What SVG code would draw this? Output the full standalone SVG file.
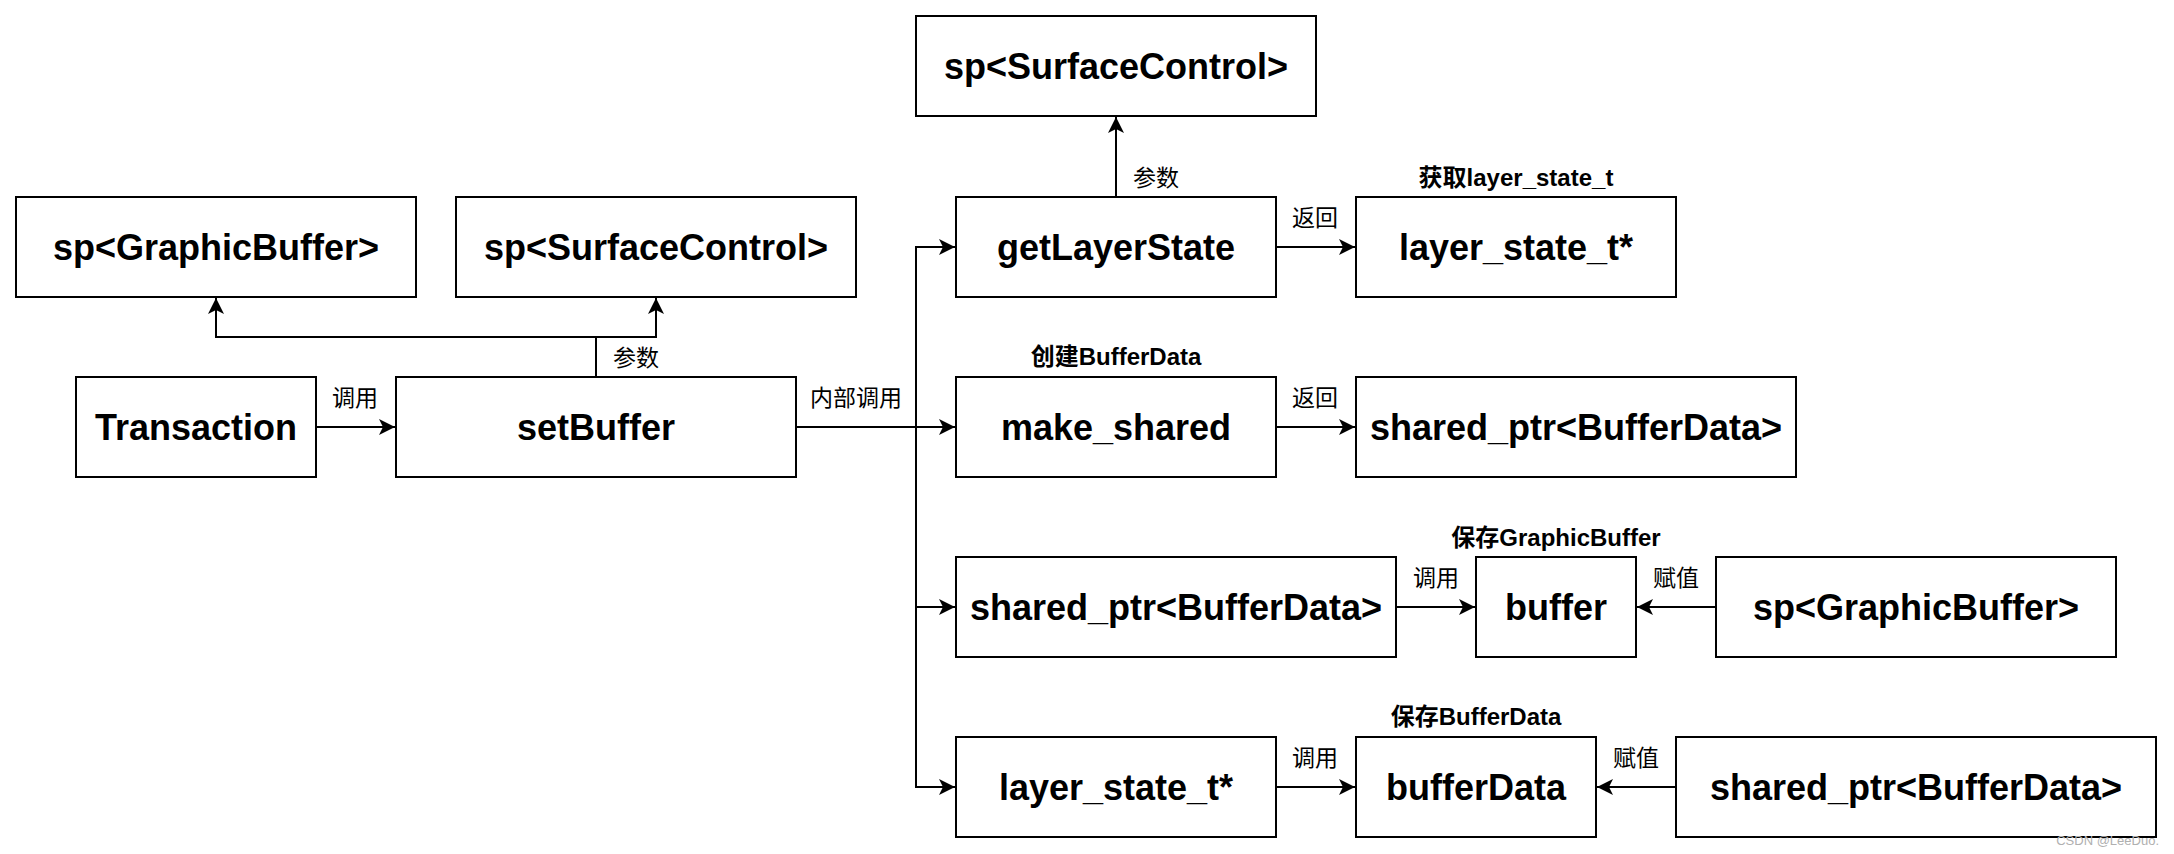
<svg xmlns="http://www.w3.org/2000/svg" width="2174" height="854" viewBox="0 0 2174 854">
<style>
.box{fill:#fff;stroke:#000;stroke-width:2}
.t{font-family:"Liberation Sans","Noto Sans CJK SC",Arial,sans-serif;font-weight:bold;font-size:36px;fill:#000;text-anchor:middle;dominant-baseline:central}
.el{font-family:"Noto Sans CJK SC","Liberation Sans",sans-serif;font-size:23px;fill:#000;text-anchor:middle;dominant-baseline:central}
.bl{font-family:"Liberation Sans","Noto Sans CJK SC",sans-serif;font-weight:bold;font-size:24px;fill:#000;text-anchor:middle;dominant-baseline:central}
.c{fill:none;stroke:#000;stroke-width:2;marker-end:url(#arr)}
.wm{font-family:"Liberation Sans",sans-serif;font-size:13px;fill:#b0b0b0;text-anchor:end}
</style>
<defs>
<marker id="arr" markerUnits="userSpaceOnUse" markerWidth="18" markerHeight="18" refX="16" refY="8" orient="auto" viewBox="0 0 18 16">
<path d="M0,0 L16,8 L0,16 L4,8 Z" fill="#000"/>
</marker>
</defs>
<rect width="2174" height="854" fill="#fff"/>
<g id="connectors">
<path class="c" d="M316,427 H395"/>
<path class="c" d="M596,377 V337 H216 V298"/>
<path class="c" d="M596,337 H656 V298"/>
<path class="c" d="M796,427 H916 V247 H955"/>
<path class="c" d="M796,427 H955"/>
<path class="c" d="M916,427 V607 H955"/>
<path class="c" d="M916,607 V787 H955"/>
<path class="c" d="M1116,197 V117"/>
<path class="c" d="M1276,247 H1355"/>
<path class="c" d="M1276,427 H1355"/>
<path class="c" d="M1396,607 H1475"/>
<path class="c" d="M1716,607 H1637"/>
<path class="c" d="M1276,787 H1355"/>
<path class="c" d="M1676,787 H1597"/>
<text class="el" x="355" y="396">调用</text>
<text class="el" x="636" y="356">参数</text>
<text class="el" x="856" y="396">内部调用</text>
<text class="el" x="1156" y="176">参数</text>
<text class="el" x="1315" y="216">返回</text>
<text class="el" x="1315" y="396">返回</text>
<text class="el" x="1436" y="576">调用</text>
<text class="el" x="1676" y="576">赋值</text>
<text class="el" x="1315" y="756">调用</text>
<text class="el" x="1636" y="756">赋值</text>
</g>
<g id="n-topSurfaceControl"><rect class="box" x="916" y="16" width="400" height="100"/><text class="t" x="1116" y="66">sp&lt;SurfaceControl&gt;</text></g>
<g id="n-spGraphicBuffer1"><rect class="box" x="16" y="197" width="400" height="100"/><text class="t" x="216" y="247">sp&lt;GraphicBuffer&gt;</text></g>
<g id="n-spSurfaceControl1"><rect class="box" x="456" y="197" width="400" height="100"/><text class="t" x="656" y="247">sp&lt;SurfaceControl&gt;</text></g>
<g id="n-getLayerState"><rect class="box" x="956" y="197" width="320" height="100"/><text class="t" x="1116" y="247">getLayerState</text></g>
<g id="n-layerState1"><text class="bl" x="1516" y="177">获取layer_state_t</text><rect class="box" x="1356" y="197" width="320" height="100"/><text class="t" x="1516" y="247">layer_state_t*</text></g>
<g id="n-transaction"><rect class="box" x="76" y="377" width="240" height="100"/><text class="t" x="196" y="427">Transaction</text></g>
<g id="n-setBuffer"><rect class="box" x="396" y="377" width="400" height="100"/><text class="t" x="596" y="427">setBuffer</text></g>
<g id="n-makeShared"><text class="bl" x="1116" y="356">创建BufferData</text><rect class="box" x="956" y="377" width="320" height="100"/><text class="t" x="1116" y="427">make_shared</text></g>
<g id="n-sharedPtr1"><rect class="box" x="1356" y="377" width="440" height="100"/><text class="t" x="1576" y="427">shared_ptr&lt;BufferData&gt;</text></g>
<g id="n-sharedPtr2"><rect class="box" x="956" y="557" width="440" height="100"/><text class="t" x="1176" y="607">shared_ptr&lt;BufferData&gt;</text></g>
<g id="n-buffer"><text class="bl" x="1556" y="537">保存GraphicBuffer</text><rect class="box" x="1476" y="557" width="160" height="100"/><text class="t" x="1556" y="607">buffer</text></g>
<g id="n-spGraphicBuffer2"><rect class="box" x="1716" y="557" width="400" height="100"/><text class="t" x="1916" y="607">sp&lt;GraphicBuffer&gt;</text></g>
<g id="n-layerState2"><rect class="box" x="956" y="737" width="320" height="100"/><text class="t" x="1116" y="787">layer_state_t*</text></g>
<g id="n-bufferData"><text class="bl" x="1476" y="716">保存BufferData</text><rect class="box" x="1356" y="737" width="240" height="100"/><text class="t" x="1476" y="787">bufferData</text></g>
<g id="n-sharedPtr3"><rect class="box" x="1676" y="737" width="480" height="100"/><text class="t" x="1916" y="787">shared_ptr&lt;BufferData&gt;</text></g>
<text class="wm" x="2159" y="845">CSDN @LeeDuo.</text>
</svg>
